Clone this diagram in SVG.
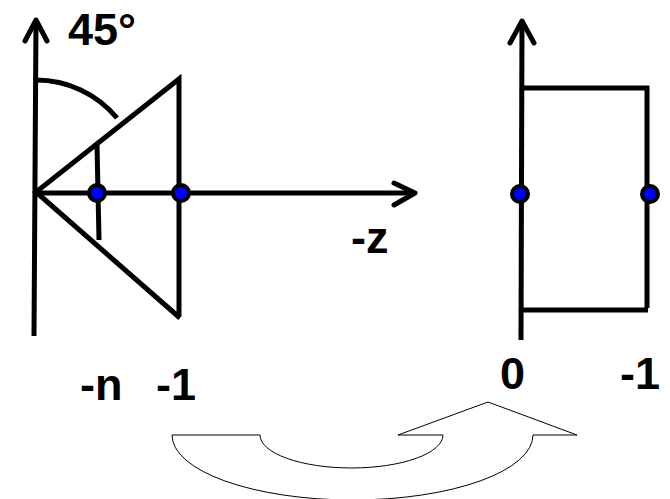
<svg xmlns="http://www.w3.org/2000/svg" width="670" height="499" viewBox="0 0 670 499">
<style>
.ln{stroke:#000;stroke-width:5;fill:none;stroke-linecap:butt}
.ah{stroke:#000;stroke-width:5;fill:none;stroke-linecap:round;stroke-linejoin:round}
.dot{fill:#0000ff;stroke:#000;stroke-width:4}
.lbl{font-family:"Liberation Sans",Arial,sans-serif;font-weight:bold;font-size:45px;fill:#000}
.turn{fill:#fff;stroke:#000;stroke-width:1}
</style>
<rect width="670" height="499" fill="#fff"/>
<g id="connectors">
<line class="ln" x1="34" y1="336" x2="36" y2="21"/>
<polyline class="ah" points="25,41 36,20 47,41"/>
<line class="ln" x1="35" y1="193" x2="414" y2="193"/>
<polyline class="ah" points="394,183 415,193 394,205"/>
<line class="ln" x1="521" y1="340" x2="522" y2="21"/>
<polyline class="ah" points="510,43 522,21 534,43"/>
</g>
<g id="frustum">
<path class="ln" d="M36,80 A105,105 0 0 1 117,118"/>
<polyline class="ln" points="180,318 36,192 179,79 179,316"/>
<line class="ln" x1="97" y1="145" x2="99" y2="240"/>
</g>
<g id="box">
<polyline class="ln" points="522,88 647,88 647,308"/>
<line class="ln" x1="521" y1="310" x2="648" y2="310"/>
</g>
<g id="dots">
<circle class="dot" cx="97" cy="193" r="8"/>
<circle class="dot" cx="181" cy="193" r="8"/>
<circle class="dot" cx="520" cy="194" r="8"/>
<circle class="dot" cx="650" cy="194" r="8"/>
</g>
<g id="labels">
<text class="lbl" x="68" y="45">45°</text>
<text class="lbl" x="351" y="253">-z</text>
<text class="lbl" x="80" y="400">-n</text>
<text class="lbl" x="156" y="400">-1</text>
<text class="lbl" x="500" y="389">0</text>
<text class="lbl" x="620" y="389">-1</text>
</g>
<g id="uturn">
<path class="turn" d="M172,435 L260,435 A91.5,33 0 0 0 443,435 L398,435 L488,402 L577,435 L533,435 A180.5,65 0 0 1 172,435 Z"/>
</g>
</svg>
